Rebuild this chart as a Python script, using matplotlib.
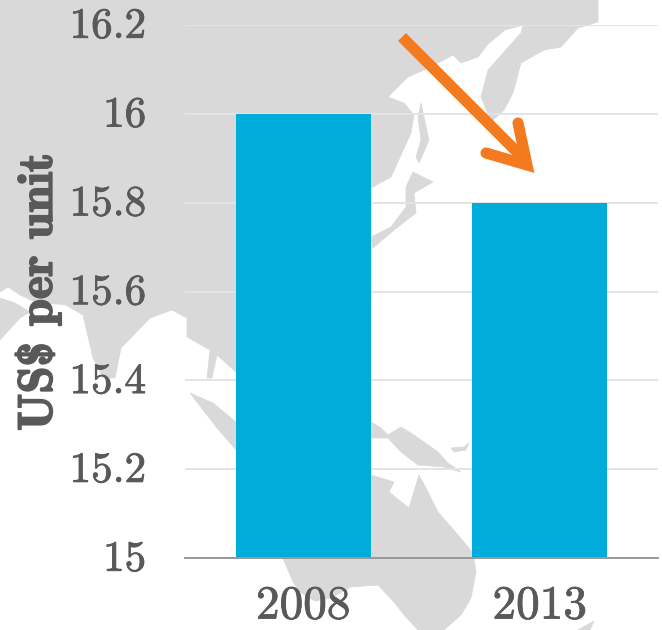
import matplotlib
matplotlib.use("Agg")
import matplotlib.pyplot as plt
import matplotlib.patheffects as pe
from matplotlib.patches import Polygon
from matplotlib.lines import Line2D
from matplotlib.transforms import ScaledTranslation

years = ["2008", "2013"]
values = [16.0, 15.8]
yticks = [15, 15.2, 15.4, 15.6, 15.8, 16, 16.2]
ytick_labels = ["15", "15.2", "15.4", "15.6", "15.8", "16", "16.2"]
ylabel = "US\\$ per unit"

W, H = 662, 630
MAP = "#d9d9d9"
TXT = "#595959"
BAR = "#00acda"
ORANGE = "#f47a1f"

# decorative background map, traced in pixels
asia = [(0,0),(598,0),(598,22),(578,28),(561,47),(544,50),(521,63),(513,93),(504,110),(491,122),
        (481,97),(488,70),(521,33),(523,25),(505,30),(488,44),(478,57),(461,63),(453,55),(431,67),
        (408,77),(388,97),(404,103),(414,115),(411,133),(391,177),(371,188),(371,300),(236,372),
        (217,355),(212,378),(207,378),(210,350),(187,337),(187,318),(172,310),(150,318),(121,348),(115,378),
        (103,378),(93,358),(83,315),(66,305),(35,302),(20,295),(8,287),(0,292)]
arabia = [(0,298),(15,303),(30,312),(20,318),(0,340)]
sumatra = [(190,393),(213,403),(236,422),(236,450),(217,428)]
korea = [(421,103),(424,117),(429,140),(419,163),(416,157),(421,140),(418,117)]
japan = [(413,172),(433,182),(414,193),(416,213),(394,230),(373,248),(371,237),(391,227),(406,207),(406,187)]
papua = [(371,422),(381,428),(388,435),(401,427),(414,435),(438,452),(448,463),(461,472),(444,467),
         (418,465),(401,452),(388,438),(371,438)]
britain = [(451,448),(464,447),(469,443),(466,450),(454,452)]
australia = [(371,475),(394,482),(389,492),(409,508),(419,475),(428,492),(438,512),(458,535),(473,553),
             (476,572),(471,598),(461,615),(444,630),(418,630),(404,615),(394,602),(378,585),(351,587),
             (331,598),(315,601),(300,592),(293,582),(283,558),(283,500),(371,475)]
tasmania = [(578,630),(594,621),(590,630)]

fig = plt.figure(figsize=(W / 100, H / 100), dpi=100, facecolor="white")

bg = fig.add_axes([0, 0, 1, 1], zorder=0)
bg.set_xlim(0, W)
bg.set_ylim(H, 0)
bg.axis("off")
for poly in [asia, arabia, sumatra, korea, japan, papua, britain, australia, tasmania]:
    bg.add_patch(Polygon(poly, closed=True, fc=MAP, ec=MAP, lw=0.5))

left, right, top, bottom = 185, 658, 25, 558
ax = fig.add_axes([left / W, 1 - bottom / H, (right - left) / W, (bottom - top) / H], zorder=1)
ax.patch.set_alpha(0)
x = list(range(len(years)))
ax.bar(x, values, width=0.57, color=BAR, zorder=3, bottom=0)
ax.set_xlim(-0.5, 1.5)
ax.set_ylim(15, 16.2)
ax.set_yticks(yticks, ytick_labels, fontfamily="cmr10", fontsize=31, color=TXT)
ax.set_xticks(x, years, fontfamily="cmr10", fontsize=34, color=TXT)
ax.tick_params(axis="both", length=0)
ax.tick_params(axis="y", pad=28)
ax.tick_params(axis="x", pad=20)
ax.grid(axis="y", color="#e4e4e4", lw=1.4, zorder=1)
ax.set_axisbelow(True)
for s in ["top", "right", "left"]:
    ax.spines[s].set_visible(False)
ax.spines["bottom"].set_color("#989898")
ax.spines["bottom"].set_linewidth(1.4)
ax.spines["bottom"].set_zorder(4)
bold = [pe.withStroke(linewidth=0.6, foreground=TXT)]
up = ScaledTranslation(0, 2 / 100, fig.dpi_scale_trans)
for lab in ax.get_yticklabels():
    lab.set_ha("right")
    lab.set_path_effects(bold)
    lab.set_transform(lab.get_transform() + up)
for lab in ax.get_xticklabels():
    lab.set_path_effects(bold)

fig.text(38 / W, 1 - 292 / H, ylabel, rotation=90, ha="center", va="center",
         fontfamily="cmb10", fontsize=35, color=TXT,
         path_effects=[pe.withStroke(linewidth=1.3, foreground=TXT)])

# arrow overlay
fg = fig.add_axes([0, 0, 1, 1], zorder=5)
fg.set_xlim(0, W)
fg.set_ylim(H, 0)
fg.axis("off")
fg.patch.set_alpha(0)
fg.add_line(Line2D([402, 525], [37, 160], color=ORANGE, lw=8, solid_capstyle="butt"))
fg.add_line(Line2D([518, 527, 486], [123, 165, 153], color=ORANGE, lw=8,
                   solid_capstyle="round", solid_joinstyle="miter"))

fig.savefig("out.png", dpi=100, facecolor="white")
